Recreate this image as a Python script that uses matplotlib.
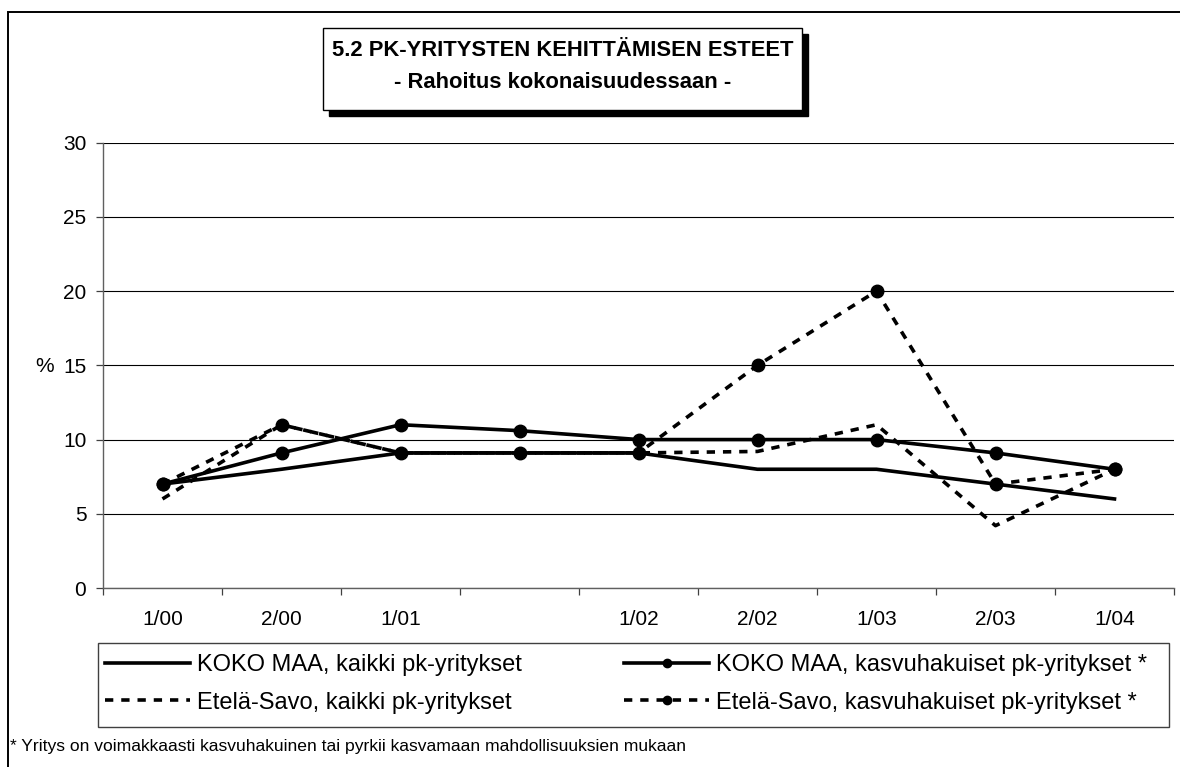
import numpy as np
import matplotlib.pyplot as plt
from matplotlib.patches import Rectangle
from matplotlib.lines import Line2D

plt.rcParams["font.family"] = ["Liberation Sans", "DejaVu Sans"]

# data
periods = ["1/00", "2/00", "1/01", "", "1/02", "2/02", "1/03", "2/03", "1/04"]
koko_kaikki = [7, 8, 9.1, 9.1, 9.1, 8, 8, 7, 6]
koko_kasvu = [7, 9.1, 11, 10.6, 10, 10, 10, 9.1, 8]
savo_kaikki = [6, 11, 9.1, 9.1, 9.1, 9.2, 11, 4.2, 8]
savo_kasvu = [7, 11, 9.1, 9.1, 9.1, 15, 20, 7, 8]

W, H = 1180, 767
fig = plt.figure(figsize=(W / 100, H / 100), dpi=100)


def px(x0, y0, x1, y1):
    # pixel box (top-left origin) -> figure fraction rect
    return [x0 / W, 1 - y1 / H, (x1 - x0) / W, (y1 - y0) / H]


def box(x0, y0, x1, y1, **kw):
    r = px(x0, y0, x1, y1)
    fig.patches.append(Rectangle((r[0], r[1]), r[2], r[3],
                                 transform=fig.transFigure, **kw))


ax = fig.add_axes(px(103, 142.7, 1174, 588))
x = np.arange(len(periods))

lw = 2.6
dash = (0, (2.3, 2.2))
ax.plot(x, koko_kaikki, color="black", lw=lw, zorder=3)
ax.plot(x, koko_kasvu, color="black", lw=lw, marker="o", ms=9, zorder=3)
ax.plot(x, savo_kaikki, color="black", lw=lw, ls=dash, zorder=3)
ax.plot(x, savo_kasvu, color="black", lw=lw, ls=dash, marker="o", ms=9, zorder=3)

ax.set_xlim(-0.5, len(periods) - 0.5)
ax.set_ylim(0, 30)
ax.set_yticks(range(0, 31, 5))
ax.yaxis.grid(True, color="black", lw=0.8)
ax.set_axisbelow(True)

ax.set_xticks(x)
ax.set_xticklabels(periods)
ax.set_xticks(np.arange(-0.5, len(periods)), minor=True)
ax.tick_params(axis="x", which="major", length=0, pad=16, labelsize=15)
ax.tick_params(axis="x", which="minor", length=5, width=0.9, color="#404040")
ax.tick_params(axis="y", length=5, width=0.9, color="#404040", labelsize=15, pad=7)

for s in ("top", "right"):
    ax.spines[s].set_visible(False)
for s in ("left", "bottom"):
    ax.spines[s].set_color("#606060")
    ax.spines[s].set_linewidth(1.0)

fig.text(35 / W, 1 - 366 / H, "%", fontsize=15, va="center", ha="left")

# outer frame (left and top edges visible)
fig.patches.append(Rectangle((8 / W, -0.1), 1.2, 1.1 - 12 / H,
                             transform=fig.transFigure, fill=False,
                             ec="black", lw=1.4))

# title box with shadow
box(329, 34, 808, 116, fc="black", ec="black")
box(323, 28, 802, 110, fc="white", ec="black", lw=1.0)
fig.text(563 / W, 1 - 50 / H, "5.2 PK-YRITYSTEN KEHITTÄMISEN ESTEET",
         fontsize=15.8, fontweight="bold", ha="center", va="center")
fig.text(563 / W, 1 - 83 / H, "- Rahoitus kokonaisuudessaan -",
         fontsize=15.8, fontweight="bold", ha="center", va="center")

# legend frame and two columns
box(98, 643, 1169, 727, fill=False, ec="#404040", lw=1.0)

h_koko = Line2D([], [], color="black", lw=lw)
h_koko_k = Line2D([], [], color="black", lw=lw, marker="o", ms=6)
h_savo = Line2D([], [], color="black", lw=lw, ls=dash)
h_savo_k = Line2D([], [], color="black", lw=lw, ls=dash, marker="o", ms=6)

leg_kw = dict(frameon=False, fontsize=17, handlelength=3.6, handletextpad=0.3,
              labelspacing=0.65, borderaxespad=0, borderpad=0)
fig.legend([h_koko, h_savo],
           ["KOKO MAA, kaikki pk-yritykset", "Etelä-Savo, kaikki pk-yritykset"],
           loc="center left", bbox_to_anchor=(105 / W, 1 - 684 / H), **leg_kw)
fig.legend([h_koko_k, h_savo_k],
           ["KOKO MAA, kasvuhakuiset pk-yritykset *",
            "Etelä-Savo, kasvuhakuiset pk-yritykset *"],
           loc="center left", bbox_to_anchor=(624 / W, 1 - 684 / H), **leg_kw)

fig.text(10 / W, 1 - 746 / H,
         "* Yritys on voimakkaasti kasvuhakuinen tai pyrkii kasvamaan mahdollisuuksien mukaan",
         fontsize=12.6, ha="left", va="center")

fig.savefig("out.png", dpi=100)
